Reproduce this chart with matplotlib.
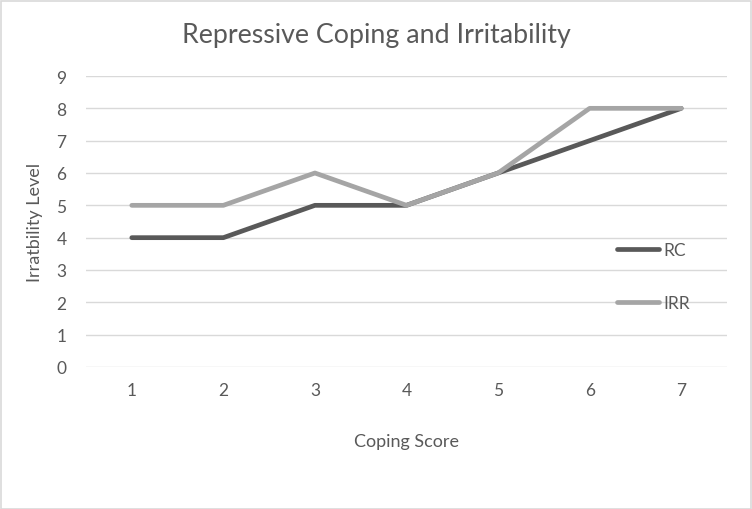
import matplotlib.pyplot as plt
import matplotlib.patches as patches

plt.rcParams['font.family'] = ['Lato', 'DejaVu Sans']

# data
coping_score = [1, 2, 3, 4, 5, 6, 7]
rc = [4, 4, 5, 5, 6, 7, 8]
irr = [5, 5, 6, 5, 6, 8, 8]

TXT = '#595959'
DARK = '#595959'
LIGHT = '#A5A5A5'
GRID = '#D9D9D9'

fig = plt.figure(figsize=(7.52, 5.10), dpi=100)
ax = fig.add_axes([86/752, 1-368/510, (727-86)/752, (368-77)/510])

ax.plot(coping_score, rc, color=DARK, lw=3.4, label='RC', solid_capstyle='round')
ax.plot(coping_score, irr, color=LIGHT, lw=3.4, label='IRR', solid_capstyle='round')

ax.set_xlim(0.5, 7.5)
ax.set_ylim(0, 9)
ax.set_xticks(coping_score)
ax.set_yticks(range(0, 10))
ax.grid(axis='y', color=GRID, lw=1)
ax.set_axisbelow(True)
for s in ax.spines.values():
    s.set_visible(False)
ax.tick_params(length=0, colors=TXT, labelsize=12.5)
ax.tick_params(axis='y', pad=14)
ax.tick_params(axis='x', pad=11)

ax.set_xlabel('Coping Score', color=TXT, fontsize=13, labelpad=25)
ax.set_ylabel('Irratbility Level', color=TXT, fontsize=13, labelpad=10)
fig.text(376/752, 1-36/510, 'Repressive Coping and Irritability', color=TXT,
         fontsize=19.3, ha='center', va='center')

leg = ax.legend(loc='upper left', bbox_to_anchor=((610-86)/641, 1-(236-77)/291),
                frameon=False, handlelength=2.4, handletextpad=0.25,
                labelspacing=2.15, fontsize=12.5, borderaxespad=0)
for t in leg.get_texts():
    t.set_color(TXT)

fig.patches.append(patches.Rectangle((0.5/752, 0.5/510), 750/752, 508/510,
                   transform=fig.transFigure, fill=False, edgecolor=GRID, lw=1.2))

fig.savefig('out.png', dpi=100)
